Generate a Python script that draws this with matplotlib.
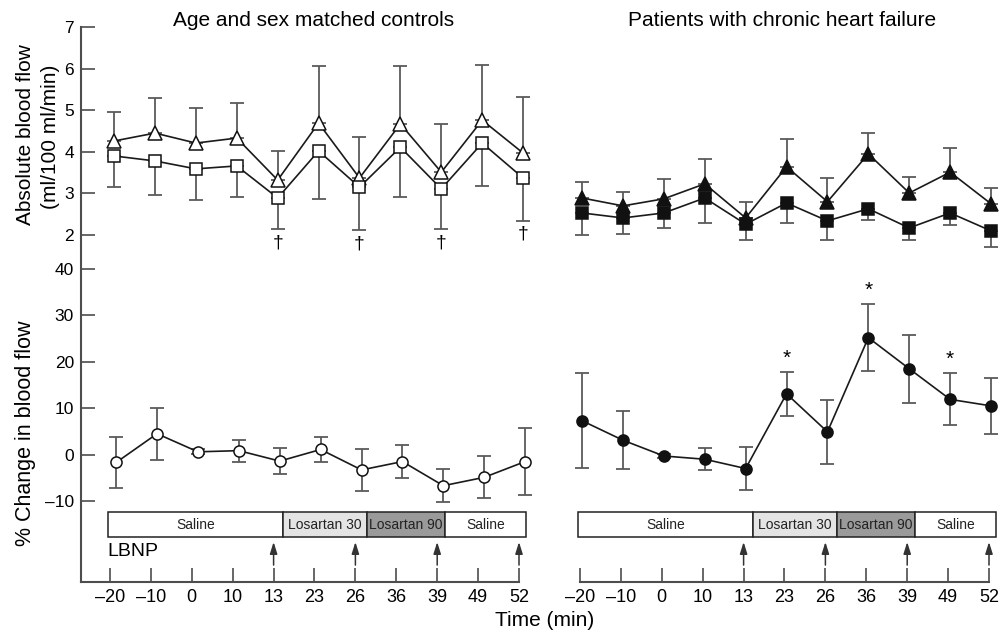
import numpy as np
import matplotlib
matplotlib.use('Agg')
import matplotlib.pyplot as plt
from matplotlib.patches import Rectangle
from matplotlib.lines import Line2D

plt.rcParams['font.family'] = ['Liberation Sans', 'DejaVu Sans']

# --- Datos ---
time_labels = ['–20', '–10', '0', '10', '13', '23', '26', '36', '39', '49', '52']
lbnp_times = ['13', '26', '39', '52']

# controles: flujo absoluto (triangulos / cuadrados abiertos)
ctrl_tri = [4.26, 4.45, 4.21, 4.33, 3.32, 4.69, 3.37, 4.67, 3.51, 4.76, 3.97]
ctrl_tri_err = [0.70, 0.84, 0.84, 0.84, 0.70, 1.37, 0.99, 1.39, 1.16, 1.33, 1.35]
ctrl_sq = [3.90, 3.78, 3.59, 3.66, 2.89, 4.02, 3.15, 4.11, 3.11, 4.21, 3.37]
ctrl_sq_err = [0.75, 0.82, 0.75, 0.75, 0.75, 1.16, 1.03, 1.20, 0.97, 1.03, 1.03]
ctrl_dagger = ['13', '26', '39', '52']

# pacientes: flujo absoluto (rellenos)
chf_tri = [2.89, 2.70, 2.87, 3.23, 2.41, 3.64, 2.80, 3.95, 3.01, 3.51, 2.75]
chf_tri_err = [0.38, 0.33, 0.48, 0.59, 0.39, 0.66, 0.57, 0.50, 0.38, 0.58, 0.38]
chf_sq = [2.53, 2.41, 2.53, 2.89, 2.26, 2.77, 2.34, 2.63, 2.17, 2.53, 2.10]
chf_sq_err = [0.53, 0.39, 0.36, 0.60, 0.38, 0.48, 0.46, 0.27, 0.29, 0.29, 0.39]

# % cambio
ctrl_pct = [-1.7, 4.5, 0.6, 0.85, -1.4, 1.1, -3.3, -1.5, -6.7, -4.9, -1.5]
ctrl_pct_err = [5.4, 5.6, 0.5, 2.4, 2.8, 2.6, 4.5, 3.5, 3.6, 4.5, 7.2]
chf_pct = [7.3, 3.1, -0.3, -1.0, -3.0, 13.1, 4.9, 25.2, 18.5, 11.9, 10.5]
chf_pct_err = [10.2, 6.3, 0.5, 2.4, 4.6, 4.7, 6.9, 7.2, 7.3, 5.6, 6.0]
chf_star = ['23', '36', '49']

# infusiones
segments = ['Saline', 'Losartan 30', 'Losartan 90', 'Saline']
segment_colors = ['white', '#e4e4e4', '#9a9a9a', 'white']
seg_edges = [-0.06, 4.23, 6.28, 8.19, 10.18]

# --- Figura ---
W, H = 1003, 632
fig = plt.figure(figsize=(W / 100, H / 100), dpi=100)

AX_COLOR = '#4d4d4d'
ERR_COLOR = '#5a5a5a'
STEP = 40.9
FS = 15


def box(x0, y0, x1, y1):
    return [x0 / W, 1 - y1 / H, (x1 - x0) / W, (y1 - y0) / H]


def make_col(x0, x1, tick0, show_y):
    xlim = ((x0 - tick0) / STEP, (x1 - tick0) / STEP)
    top = fig.add_axes(box(x0, 27, x1, 235))
    bot = fig.add_axes(box(x0, 269, x1, 501))
    strip = fig.add_axes(box(x0, 505, x1, 582))
    for a in (top, bot, strip):
        a.set_xlim(*xlim)
        a.patch.set_visible(False)
        for s in a.spines.values():
            s.set_visible(False)
        a.set_xticks([])
    top.set_ylim(2, 7)
    bot.set_ylim(-10, 40)
    strip.set_ylim(0, 1)
    if show_y:
        top.set_yticks(range(2, 8))
        bot.set_yticks(range(-10, 41, 10))
        bot.set_yticklabels(['–10', '0', '10', '20', '30', '40'])
        for a in (top, bot):
            a.tick_params(axis='y', direction='in', length=10, width=1.2,
                          color=AX_COLOR, labelsize=12.5, pad=5)
        fig.add_artist(Line2D([x0 / W, x0 / W], [1 - 27 / H, 1 - 582 / H],
                              color=AX_COLOR, lw=1.5))
    else:
        top.set_yticks([])
        bot.set_yticks([])
    strip.set_yticks([])
    strip.spines['bottom'].set_visible(True)
    strip.spines['bottom'].set_color(AX_COLOR)
    strip.spines['bottom'].set_linewidth(1.5)
    strip.spines['bottom'].set_bounds(xlim[0] if show_y else 0, 10)
    strip.set_xticks(range(len(time_labels)))
    strip.set_xticklabels(time_labels)
    strip.tick_params(axis='x', direction='in', length=10, width=1.2,
                      color=AX_COLOR, labelsize=13, pad=5)
    return top, bot, strip


def series(ax, x, y, err, side, marker, filled, ms):
    z = np.zeros(len(err))
    yerr = [z, err] if side == 'up' else ([err, z] if side == 'down' else [err, err])
    ax.errorbar(x, y, yerr=yerr, fmt='none', ecolor=ERR_COLOR, elinewidth=1.3,
                capsize=5, capthick=1.3, zorder=1)
    ax.plot(x, y, '-', color='#1a1a1a', lw=1.2, marker=marker, ms=ms,
            mfc='#111111' if filled else 'white', mec='#111111', mew=1.1, zorder=3)


def strip_draw(ax, with_lbnp):
    for i, name in enumerate(segments):
        e0, e1 = seg_edges[i], seg_edges[i + 1]
        ax.add_patch(Rectangle((e0, 0.584), e1 - e0, 0.325, facecolor=segment_colors[i],
                               edgecolor='#222222', lw=1.1))
        ax.text((e0 + e1) / 2, 0.746, name, ha='center', va='center', fontsize=10,
                color='#222222')
    for t in lbnp_times:
        i = time_labels.index(t)
        ax.annotate('', xy=(i, 0.52), xytext=(i, 0.22),
                    arrowprops=dict(arrowstyle='-|>,head_length=0.7,head_width=0.22',
                                    color='#333333', lw=1.1, shrinkA=0, shrinkB=0))
    if with_lbnp:
        ax.text(seg_edges[0], 0.40, 'LBNP', ha='left', va='center', fontsize=14)


idx = np.arange(len(time_labels))

# columna izquierda: controles
lt, lb, ls = make_col(81, 545, 110, True)
series(lt, idx + 0.1, ctrl_tri, ctrl_tri_err, 'up', '^', False, 9.5)
series(lt, idx + 0.1, ctrl_sq, ctrl_sq_err, 'down', 's', False, 8)
for t in ctrl_dagger:
    i = time_labels.index(t)
    lt.text(i + 0.1, ctrl_sq[i] - ctrl_sq_err[i] - 0.12, '†', ha='center', va='top',
            fontsize=14)
series(lb, idx + 0.15, ctrl_pct, ctrl_pct_err, 'both', 'o', False, 8)
strip_draw(ls, True)

# columna derecha: pacientes
rt, rb, rs = make_col(560, 1003, 580, False)
series(rt, idx + 0.05, chf_tri, chf_tri_err, 'up', '^', True, 9.5)
series(rt, idx + 0.05, chf_sq, chf_sq_err, 'down', 's', True, 8)
series(rb, idx + 0.05, chf_pct, chf_pct_err, 'both', 'o', True, 8)
for t in chf_star:
    i = time_labels.index(t)
    rb.text(i + 0.05, chf_pct[i] + chf_pct_err[i] + 1.0, '*', ha='center', va='bottom',
            fontsize=15)
strip_draw(rs, False)

for a in fig.axes:
    for art in a.get_children():
        if hasattr(art, 'set_clip_on'):
            art.set_clip_on(False)

# textos
fig.text(314 / W, 1 - 20 / H, 'Age and sex matched controls', ha='center', va='center',
         fontsize=FS)
fig.text(782 / W, 1 - 20 / H, 'Patients with chronic heart failure', ha='center',
         va='center', fontsize=FS)
fig.text(26 / W, 1 - 135 / H, 'Absolute blood flow', rotation=90, ha='center',
         va='center', fontsize=15)
fig.text(51 / W, 1 - 137 / H, '(ml/100 ml/min)', rotation=90, ha='center',
         va='center', fontsize=15)
fig.text(26 / W, 1 - 433 / H, '% Change in blood flow', rotation=90, ha='center',
         va='center', fontsize=15.5)
fig.text(545 / W, 1 - 621 / H, 'Time (min)', ha='center', va='center', fontsize=FS)

fig.savefig('out.png', dpi=100)
